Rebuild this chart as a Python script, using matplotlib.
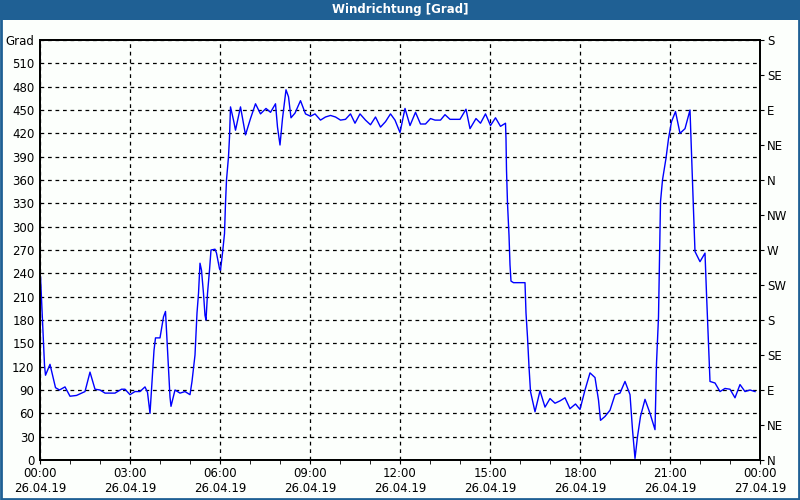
import matplotlib
matplotlib.use('Agg')
import matplotlib.pyplot as plt
from matplotlib.patches import Rectangle

# minutes since 00:00 on 26.04.19, wind direction in degrees
minutes = [1, 3, 9, 11, 20, 31, 39, 50, 60, 73, 90, 100, 110, 120, 130, 150, 163, 170, 180, 190,
           200, 210, 215, 220, 223, 228, 231, 240, 247, 251, 260, 262, 270, 280, 290, 300, 304, 310,
           314, 317, 320, 323, 327, 330, 332, 335, 339, 342, 350, 353, 359, 361, 365, 369, 371, 373,
           377, 379, 381, 387, 391, 401, 411, 421, 431, 441, 452, 461, 471, 475, 480, 485, 492, 497,
           502, 510, 521, 531, 541, 550, 561, 571, 581, 591, 601, 611, 621, 630, 640, 651, 661, 671,
           681, 691, 701, 710, 720, 730, 740, 751, 761, 771, 781, 790, 801, 810, 820, 840, 852, 860,
           872, 881, 891, 901, 911, 921, 931, 932, 933, 935, 938, 940, 942, 947, 970, 972, 975, 978,
           981, 990, 1000, 1010, 1020, 1030, 1040, 1050, 1060, 1071, 1080, 1090, 1100, 1110, 1117,
           1121, 1130, 1140, 1150, 1160, 1170, 1180, 1185, 1190, 1195, 1201, 1210, 1220, 1230, 1233,
           1237, 1240, 1241, 1245, 1252, 1257, 1263, 1271, 1280, 1290, 1300, 1303, 1307, 1310, 1320,
           1330, 1333, 1337, 1340, 1350, 1360, 1370, 1380, 1390, 1400, 1410, 1420, 1430]
grad = [236, 208, 122, 109, 123, 93, 90, 94, 82, 83, 88, 113, 91, 90, 86, 86, 91, 91, 84, 88,
        88, 94, 87, 60, 90, 141, 157, 157, 184, 191, 81, 69, 90, 86, 88, 84, 101, 135,
        189, 214, 253, 244, 214, 186, 180, 214, 244, 270, 271, 266, 246, 244, 266, 291, 330, 360,
        390, 415, 454, 437, 424, 454, 418, 439, 458, 445, 452, 447, 458, 428, 405, 439, 476, 467,
        440, 446, 462, 445, 442, 445, 437, 441, 443, 441, 437, 438, 445, 433, 445, 437, 431, 441,
        428, 435, 445, 437, 421, 452, 430, 447, 432, 432, 439, 437, 437, 444, 438, 438, 451, 426,
        439, 433, 445, 430, 440, 429, 433, 413, 373, 330, 289, 251, 230, 228, 228, 189, 158, 120,
        88, 62, 89, 68, 79, 73, 76, 80, 66, 72, 65, 90, 112, 106, 77,
        51, 56, 64, 84, 86, 101, 84, 39, 2, 30, 56, 78, 60, 39, 124,
        184, 300, 332, 360, 388, 413, 435, 448, 420, 426, 450, 394, 321, 268, 255,
        266, 214, 150, 101, 99, 88, 92, 91, 80, 97, 88, 90, 88]

left_ticks = list(range(0, 511, 30))
compass = ['N', 'NE', 'E', 'SE', 'S', 'SW', 'W', 'NW', 'N', 'NE', 'E', 'SE', 'S']
hour_labels = ['00:00\n26.04.19', '03:00\n26.04.19', '06:00\n26.04.19', '09:00\n26.04.19',
               '12:00\n26.04.19', '15:00\n26.04.19', '18:00\n26.04.19', '21:00\n26.04.19',
               '00:00\n27.04.19']

hours = [m / 60 for m in minutes]

plt.rcParams['font.family'] = ['DejaVu Sans']
plt.rcParams['font.size'] = 8.5

fig = plt.figure(figsize=(8, 5), dpi=100, facecolor='#fcfffc')
ax = fig.add_axes([0.05, 0.08, 0.90, 0.84])
ax.set_facecolor('#fcfffc')

ax.plot(hours, grad, color='#0000ff', linewidth=1)

ax.set_xlim(0, 24)
ax.set_ylim(0, 540)
ax.set_yticks(left_ticks + [540])
ax.set_yticklabels([str(v) for v in left_ticks] + ['Grad'])
ax.tick_params(axis='y', length=0, pad=4)
ax.set_xticks(range(0, 25, 3))
ax.set_xticklabels(hour_labels, linespacing=1.25)
ax.set_xticks(range(0, 25), minor=True)
ax.tick_params(axis='x', which='both', length=3, color='black', pad=2)

ax.grid(True, which='major', color='black', linestyle=(0, (3, 3)), linewidth=0.9)
for s in ax.spines.values():
    s.set_linewidth(1.3)

ax2 = ax.twinx()
ax2.set_ylim(0, 540)
ax2.set_yticks(range(0, 541, 45))
ax2.set_yticklabels(compass)
ax2.tick_params(axis='y', length=3, pad=2)
for s in ax2.spines.values():
    s.set_linewidth(1.3)

# title bar and border
fig.patches.append(Rectangle((0, 0.96), 1, 0.04, transform=fig.transFigure,
                             facecolor='#1f6094', edgecolor='none'))
fig.patches.append(Rectangle((0.001, 0.002), 0.998, 0.996, transform=fig.transFigure,
                             facecolor='none', edgecolor='#1f6094', linewidth=2))
fig.text(0.5, 0.98, 'Windrichtung [Grad]', color='white', fontweight='bold',
         ha='center', va='center', fontsize=8.5)

fig.savefig('out.png', dpi=100, facecolor=fig.get_facecolor())
